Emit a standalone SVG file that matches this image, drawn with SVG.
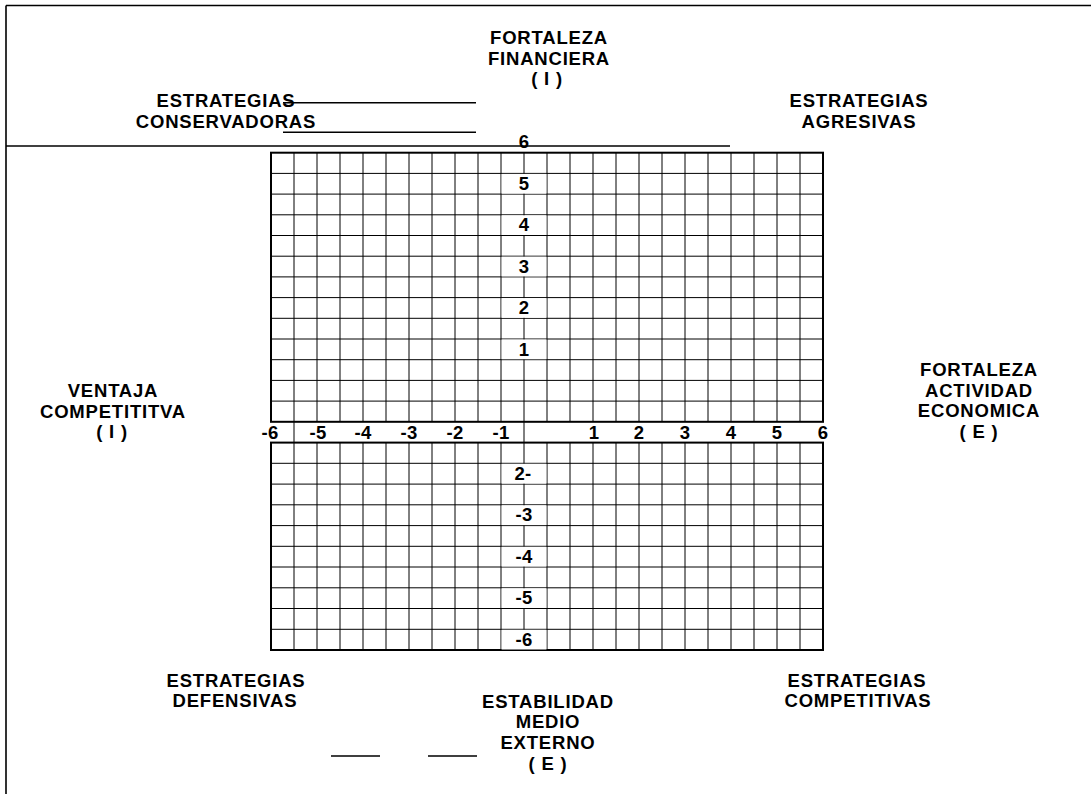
<svg xmlns="http://www.w3.org/2000/svg" width="1091" height="794" viewBox="0 0 1091 794">
<style>
  text { font-family: "Liberation Sans", Arial, sans-serif; font-weight: bold; font-size: 18.5px; letter-spacing: 0.8px; fill: #000; text-anchor: middle; }
  .num { letter-spacing: 0.4px; }
  .rule { stroke: #000; stroke-width: 1.6; fill: none; }
  .grid { stroke: #000; stroke-width: 1; fill: none; }
  .gridbox { stroke: #000; stroke-width: 2; fill: none; }
  .blank { fill: #fff; stroke: none; }
</style>
<rect width="1091" height="794" fill="#fff"/>

<g id="frame">
  <path class="rule" d="M6 5.5H1091 M6 5.5V794" stroke-width="3"/>
  <path class="rule" d="M6 146H730"/>
  <path class="rule" d="M283 102.7H476 M283 132.3H476"/>
  <path class="rule" d="M331 756H380 M428 756H477"/>
</g>

<g id="grid-upper">
  <path class="grid" d="M294 152.7V421.8 M317 152.7V421.8 M340 152.7V421.8 M363 152.7V421.8 M386 152.7V421.8 M409 152.7V421.8 M432 152.7V421.8 M455 152.7V421.8 M478 152.7V421.8 M501 152.7V421.8 M524 152.7V421.8 M547 152.7V421.8 M570 152.7V421.8 M593 152.7V421.8 M616 152.7V421.8 M639 152.7V421.8 M662 152.7V421.8 M685 152.7V421.8 M708 152.7V421.8 M731 152.7V421.8 M754 152.7V421.8 M777 152.7V421.8 M800 152.7V421.8
  M271 173.4H823 M271 194.1H823 M271 214.8H823 M271 235.5H823 M271 256.2H823 M271 276.9H823 M271 297.6H823 M271 318.3H823 M271 339H823 M271 359.7H823 M271 380.4H823 M271 401.1H823"/>
  <rect class="gridbox" x="271" y="152.7" width="552" height="269.1"/>
  <rect class="blank" x="501.6" y="173.9" width="44.8" height="19.7"/>
  <rect class="blank" x="501.6" y="215.3" width="44.8" height="19.7"/>
  <rect class="blank" x="501.6" y="256.7" width="44.8" height="19.7"/>
  <rect class="blank" x="501.6" y="298.1" width="44.8" height="19.7"/>
  <rect class="blank" x="501.6" y="339.5" width="44.8" height="19.7"/>
</g>

<g id="grid-lower">
  <path class="grid" d="M294 442.6V650 M317 442.6V650 M340 442.6V650 M363 442.6V650 M386 442.6V650 M409 442.6V650 M432 442.6V650 M455 442.6V650 M478 442.6V650 M501 442.6V650 M524 442.6V650 M547 442.6V650 M570 442.6V650 M593 442.6V650 M616 442.6V650 M639 442.6V650 M662 442.6V650 M685 442.6V650 M708 442.6V650 M731 442.6V650 M754 442.6V650 M777 442.6V650 M800 442.6V650
  M271 463.3H823 M271 484.1H823 M271 504.8H823 M271 525.6H823 M271 546.3H823 M271 567H823 M271 587.8H823 M271 608.5H823 M271 629.3H823"/>
  <rect class="gridbox" x="271" y="442.6" width="552" height="207.4"/>
  <rect class="blank" x="501.6" y="463.8" width="44.8" height="19.8"/>
  <rect class="blank" x="501.6" y="505.3" width="44.8" height="19.8"/>
  <rect class="blank" x="501.6" y="546.8" width="44.8" height="19.7"/>
  <rect class="blank" x="501.6" y="588.3" width="44.8" height="19.7"/>
  <rect class="blank" x="501.6" y="629.8" width="44.8" height="19.7"/>
</g>

<g id="axis-row">
  <path class="grid" d="M294 421.8V442.6 M524 421.8V442.6"/>
  <text class="num" x="270" y="439">-6</text>
  <text class="num" x="318" y="439">-5</text>
  <text class="num" x="363" y="439">-4</text>
  <text class="num" x="409" y="439">-3</text>
  <text class="num" x="455" y="439">-2</text>
  <text class="num" x="501" y="439">-1</text>
  <text class="num" x="594" y="439">1</text>
  <text class="num" x="639" y="439">2</text>
  <text class="num" x="685" y="439">3</text>
  <text class="num" x="731" y="439">4</text>
  <text class="num" x="777" y="439">5</text>
  <text class="num" x="823" y="439">6</text>
</g>

<g id="axis-y">
  <text class="num" x="524" y="148">6</text>
  <text class="num" x="524" y="190">5</text>
  <text class="num" x="524" y="231.3">4</text>
  <text class="num" x="524" y="272.7">3</text>
  <text class="num" x="524" y="314.1">2</text>
  <text class="num" x="524" y="355.5">1</text>
  <text class="num" x="523" y="480">2-</text>
  <text class="num" x="524" y="521.4">-3</text>
  <text class="num" x="524" y="562.8">-4</text>
  <text class="num" x="524" y="604.2">-5</text>
  <text class="num" x="524" y="645.6">-6</text>
</g>

<g id="label-fortaleza-financiera">
  <text x="549" y="44">FORTALEZA</text>
  <text x="549" y="64.5">FINANCIERA</text>
  <text x="547" y="85">( I )</text>
</g>

<g id="label-conservadoras">
  <text x="226" y="107">ESTRATEGIAS</text>
  <text x="226" y="127.5">CONSERVADORAS</text>
</g>

<g id="label-agresivas">
  <text x="859" y="107">ESTRATEGIAS</text>
  <text x="859" y="127.5">AGRESIVAS</text>
</g>

<g id="label-ventaja">
  <text x="113" y="397">VENTAJA</text>
  <text x="113" y="417.5">COMPETITITVA</text>
  <text x="112" y="438">( I )</text>
</g>

<g id="label-actividad">
  <text x="979" y="376">FORTALEZA</text>
  <text x="979" y="396.5">ACTIVIDAD</text>
  <text x="979" y="417">ECONOMICA</text>
  <text x="979" y="438">( E )</text>
</g>

<g id="label-defensivas">
  <text x="236" y="686.5">ESTRATEGIAS</text>
  <text x="235" y="707">DEFENSIVAS</text>
</g>

<g id="label-estabilidad">
  <text x="548" y="707.5">ESTABILIDAD</text>
  <text x="548" y="728">MEDIO</text>
  <text x="548" y="749">EXTERNO</text>
  <text x="548" y="770">( E )</text>
</g>

<g id="label-competitivas">
  <text x="857" y="686.5">ESTRATEGIAS</text>
  <text x="858" y="707">COMPETITIVAS</text>
</g>
</svg>
